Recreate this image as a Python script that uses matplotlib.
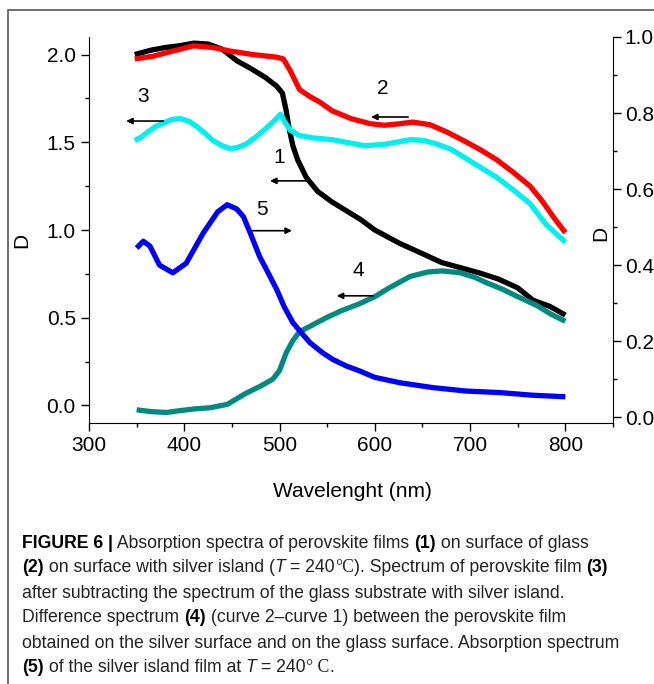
import matplotlib
matplotlib.use("Agg")
import matplotlib.pyplot as plt
from matplotlib.patches import Rectangle
from matplotlib.ticker import MultipleLocator, FormatStrFormatter

plt.rcParams['font.family'] = ['Liberation Sans', 'DejaVu Sans']

# curve 1: perovskite film on glass (left axis)
wl1 = [348, 365, 380, 395, 410, 425, 440, 455, 470, 485, 497, 503, 507, 510, 514, 519, 528, 540,
       555, 570, 585, 600, 626, 650, 670, 690, 710, 730, 750, 766, 784, 800]
d1 = [2.00, 2.025, 2.04, 2.05, 2.065, 2.06, 2.03, 1.965, 1.92, 1.87, 1.82, 1.78, 1.68, 1.58, 1.48, 1.40,
      1.30, 1.22, 1.16, 1.11, 1.06, 1.00, 0.924, 0.865, 0.815, 0.785, 0.755, 0.72, 0.67, 0.60, 0.564, 0.515]

# curve 2: perovskite film on silver islands (left axis)
wl2 = [348, 367, 388, 410, 430, 448, 472, 497, 504, 511, 521, 532, 542, 555, 575, 595, 610, 625,
       640, 658, 675, 693, 710, 728, 745, 763, 775, 788, 800]
d2 = [1.975, 1.99, 2.02, 2.05, 2.04, 2.02, 2.00, 1.985, 1.975, 1.91, 1.80, 1.76, 1.73, 1.68, 1.635,
      1.606, 1.597, 1.605, 1.615, 1.60, 1.56, 1.51, 1.46, 1.40, 1.33, 1.25, 1.17, 1.07, 0.985]

# curve 3: film after subtracting silver-island substrate (left axis)
wl3 = [348, 355, 362, 370, 378, 387, 396, 405, 413, 422, 430, 440, 448, 456, 465, 475, 486, 494,
       501, 505, 511, 520, 535, 555, 575, 590, 612, 637, 652, 665, 680, 693, 710, 728, 745, 763, 780, 800]
d3 = [1.51, 1.53, 1.56, 1.59, 1.61, 1.63, 1.635, 1.62, 1.59, 1.55, 1.51, 1.48, 1.464, 1.47, 1.49,
      1.53, 1.58, 1.62, 1.66, 1.62, 1.57, 1.54, 1.525, 1.515, 1.495, 1.48, 1.49, 1.515, 1.51, 1.49,
      1.46, 1.417, 1.36, 1.30, 1.23, 1.15, 1.03, 0.93]

# curve 4: difference spectrum (left axis)
wl4 = [350, 365, 381, 395, 410, 427, 445, 465, 480, 493, 500, 507, 514, 521, 535, 549, 565, 584,
       600, 615, 637, 655, 670, 689, 705, 717, 735, 750, 770, 785, 800]
d4 = [-0.025, -0.035, -0.04, -0.03, -0.02, -0.013, 0.006, 0.07, 0.11, 0.15, 0.20, 0.30, 0.37, 0.42,
      0.46, 0.50, 0.54, 0.58, 0.62, 0.67, 0.735, 0.76, 0.767, 0.757, 0.73, 0.70, 0.66, 0.62, 0.57, 0.52, 0.48]

# curve 5: silver island film (right axis)
wl5 = [350, 357, 364, 374, 388, 402, 420, 435, 445, 455, 462, 470, 479, 488, 497, 505, 514, 522,
       532, 545, 556, 570, 584, 600, 626, 661, 696, 731, 766, 800]
d5 = [0.445, 0.463, 0.45, 0.40, 0.38, 0.405, 0.485, 0.54, 0.559, 0.548, 0.528, 0.48, 0.423, 0.38,
      0.336, 0.29, 0.249, 0.225, 0.196, 0.17, 0.152, 0.135, 0.122, 0.105, 0.091, 0.078, 0.069,
      0.065, 0.058, 0.054]

W, H = 654, 684
fig = plt.figure(figsize=(W / 100, H / 100), dpi=100)
ax1 = fig.add_axes([89 / W, 1 - 423 / H, 524 / W, 386 / H])
ax2 = ax1.twinx()

line_kw = dict(lw=3.8, solid_joinstyle='round', solid_capstyle='butt')
ax1.plot(wl1, d1, color='black', zorder=3, **line_kw)
ax1.plot(wl2, d2, color='#ff0000', zorder=4, **line_kw)
ax1.plot(wl3, d3, color='#00f0f0', zorder=3, **line_kw)
ax1.plot(wl4, d4, color='#008a80', zorder=3, **line_kw)
ax2.plot(wl5, d5, color='#0000ff', zorder=3, **line_kw)

ax1.set_xlim(300, 850)
ax1.set_ylim(-0.1, 2.1)
ax2.set_ylim(-0.015, 1.0)

ax1.xaxis.set_minor_locator(MultipleLocator(50))
ax1.yaxis.set_minor_locator(MultipleLocator(0.25))
ax2.yaxis.set_minor_locator(MultipleLocator(0.1))
ax1.set_xticks([300, 400, 500, 600, 700, 800])
ax1.set_yticks([0.0, 0.5, 1.0, 1.5, 2.0])
ax2.set_yticks([0.0, 0.2, 0.4, 0.6, 0.8, 1.0])

for ax in (ax1, ax2):
    ax.spines['top'].set_visible(False)
    ax.tick_params(which='major', direction='out', length=5.5, width=1, labelsize=15, pad=4)
    ax.tick_params(which='minor', direction='out', length=3, width=1)
ax2.spines['left'].set_visible(False)
ax2.spines['bottom'].set_visible(False)
ax1.spines['right'].set_visible(False)
ax1.yaxis.set_major_formatter(FormatStrFormatter('%.1f'))
ax2.yaxis.set_major_formatter(FormatStrFormatter('%.1f'))
ax2.tick_params(axis='y', pad=3)

ax1.set_xlabel("Wavelenght (nm)", fontsize=15)
ax1.xaxis.set_label_coords(0.502, -0.153)
ax1.set_ylabel("D", fontsize=15)
ax1.yaxis.set_label_coords(-0.111, 0.474)
ax2.set_ylabel("D", fontsize=15, rotation=90)
ax2.yaxis.set_label_coords(0.958, 0.49)

# curve labels with arrows pointing to their axis
arrow = dict(arrowstyle='-|>', color='black', lw=1.2, mutation_scale=9, shrinkA=0, shrinkB=0)
ax1.annotate('', xy=(490, 1.28), xytext=(528, 1.28), arrowprops=arrow)
ax1.text(500, 1.415, '1', fontsize=15, ha='center', va='center')
ax1.annotate('', xy=(596, 1.644), xytext=(635, 1.644), arrowprops=arrow)
ax1.text(608, 1.807, '2', fontsize=15, ha='center', va='center')
ax1.annotate('', xy=(339, 1.621), xytext=(378, 1.621), arrowprops=arrow)
ax1.text(357, 1.761, '3', fontsize=15, ha='center', va='center')
ax1.annotate('', xy=(560, 0.625), xytext=(598, 0.625), arrowprops=arrow)
ax1.text(583, 0.767, '4', fontsize=15, ha='center', va='center')
ax1.annotate('', xy=(513, 0.996), xytext=(471, 0.996), arrowprops=arrow)
ax1.text(482, 1.119, '5', fontsize=15, ha='center', va='center')

# outer frame of the figure panel
fig.add_artist(Rectangle((8 / W, -0.2), 1.2, 1.2 - 10 / H, transform=fig.transFigure,
                         fill=False, edgecolor='#555555', lw=1.2))

# caption
cap_size = 12.7
B, R, I, S = 'bold', 'normal', 'italic', 'serif'
caption = [
    [("FIGURE 6 |", B), (" Absorption spectra of perovskite films ", R), ("(1)", B), (" on surface of glass", R)],
    [("(2)", B), (" on surface with silver island (", R), ("T", I), (" = 240", R), ("°C", S),
     ("). Spectrum of perovskite film ", R), ("(3)", B)],
    [("after subtracting the spectrum of the glass substrate with silver island.", R)],
    [("Difference spectrum ", R), ("(4)", B), (" (curve 2–curve 1) between the perovskite film", R)],
    [("obtained on the silver surface and on the glass surface. Absorption spectrum", R)],
    [("(5)", B), (" of the silver island film at ", R), ("T", I), (" = 240", R), ("° C", S), (".", R)],
]
line_y = [543, 568, 593, 618, 643, 668]

renderer = fig.canvas.get_renderer()
for runs, y in zip(caption, line_y):
    x = 22
    for s, kind in runs:
        kw = dict(fontsize=cap_size, va='center', ha='left', color='#222222')
        if kind == B:
            kw['fontweight'] = 'bold'
            kw['color'] = 'black'
        elif kind == I:
            kw['fontstyle'] = 'italic'
        elif kind == S:
            kw['family'] = ['Liberation Serif', 'DejaVu Serif']
        t = fig.text(x / W, 1 - y / H, s, **kw)
        x += t.get_window_extent(renderer).width

fig.savefig("out.png", dpi=100)
